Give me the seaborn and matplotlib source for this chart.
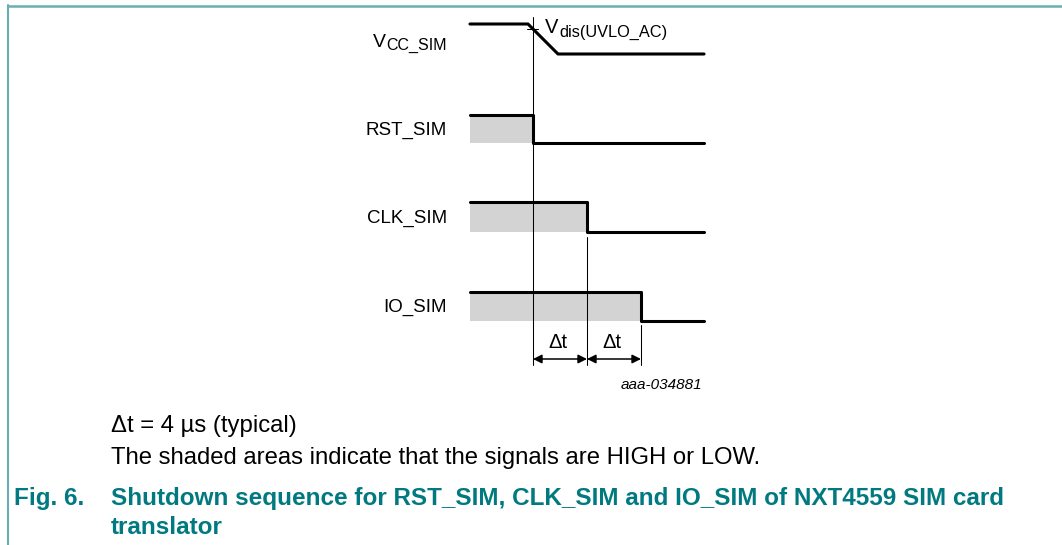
import numpy as np
import pandas as pd
import matplotlib
matplotlib.use("Agg")
import matplotlib.pyplot as plt
import seaborn as sns

# ---------------- data (timing in µs) ----------------
signals = ["VCC_SIM", "RST_SIM", "CLK_SIM", "IO_SIM"]
t_start = -4.67
t_end = 12.67
edge_times = [0, 4, 8]            # falling edges of RST_SIM, CLK_SIM, IO_SIM
vcc_ramp = [-0.37, 1.85]          # VCC_SIM ramp-down start / end
dt_labels = ["Δt", "Δt"]
fig_id = "aaa-034881"
note1 = "Δt = 4 µs (typical)"
note2 = "The shaded areas indicate that the signals are HIGH or LOW."
fig_no = "Fig. 6."
title_l1 = "Shutdown sequence for RST_SIM, CLK_SIM and IO_SIM of NXT4559 SIM card"
title_l2 = "translator"

# row levels (vertical layout, in pixel-like units)
row_high = [24, 115, 202, 292]
row_low = [54, 143, 232, 321]

sns.set_theme(style="white")
plt.rcParams["font.family"] = ["Liberation Sans", "DejaVu Sans"]
plt.rcParams["text.color"] = "black"

W, H = 1062, 545
fig = plt.figure(figsize=(W / 100, H / 100), dpi=100)
ax = fig.add_axes([0, 0, 1, 1])
x0_px, px_per_us = 533, 13.5
ax.set_xlim(-x0_px / px_per_us, (W - x0_px) / px_per_us)
ax.set_ylim(H, 0)
ax.axis("off")
renderer = fig.canvas.get_renderer()


def px(xp):
    return (xp - x0_px) / px_per_us


# build traces
rows = []
vt = [t_start, vcc_ramp[0], vcc_ramp[1], t_end]
vy = [row_high[0], row_high[0], row_low[0], row_low[0]]
for i, (t, y) in enumerate(zip(vt, vy)):
    rows.append(dict(sig=signals[0], order=i, t=t, y=y))
for k, e in enumerate(edge_times):
    hi, lo = row_high[k + 1], row_low[k + 1]
    for i, (t, y) in enumerate(zip([t_start, e, e, t_end], [hi, hi, lo, lo])):
        rows.append(dict(sig=signals[k + 1], order=i, t=t, y=y))
df = pd.DataFrame(rows)

# shading
for k, e in enumerate(edge_times):
    ax.fill_between([t_start, e], row_low[k + 1], row_high[k + 1],
                    color="#d3d3d3", lw=0, zorder=1)

for s in signals:
    d = df[df.sig == s]
    sns.lineplot(data=d, x="t", y="y", ax=ax, color="black", lw=2.2,
                 estimator=None, sort=False, legend=False, zorder=3)

# thin reference lines
ref_tops = [17, 237, 325]
for e, top in zip(edge_times, ref_tops):
    ax.plot([e, e], [top, 365], color="black", lw=0.75, zorder=2)

# Vdis tick
ycross = row_high[0] + (row_low[0] - row_high[0]) * (0 - vcc_ramp[0]) / (vcc_ramp[1] - vcc_ramp[0])
ax.plot([-0.45, 0.35], [ycross, ycross], color="black", lw=0.75, zorder=3)

# V_dis(UVLO_AC) label: main letter + subscript
v1 = ax.text(px(545), 33, "V", fontsize=14.5, ha="left", va="baseline")
ext = v1.get_window_extent(renderer)
ax.text(px(ext.x1 + 0.5), 37, "dis(UVLO_AC)", fontsize=11.8, ha="left", va="baseline")

# V_CC_SIM label (right aligned at 447 px)
sub = ax.text(px(447), 50, "CC_SIM", fontsize=11.5, ha="right", va="baseline")
ext = sub.get_window_extent(renderer)
ax.text(px(ext.x0 - 0.3), 47, "V", fontsize=14, ha="right", va="baseline")

# arrows
for a, b, lab in zip(edge_times[:-1], edge_times[1:], dt_labels):
    ax.annotate("", xy=(a, 359), xytext=(b, 359),
                arrowprops=dict(arrowstyle="<|-|>", lw=1.1, color="black",
                                mutation_scale=13, shrinkA=0, shrinkB=0))
    ax.text((a + b) / 2 - 0.15, 342, lab, ha="center", va="center", fontsize=14.5)

# signal labels
lab_x = px(447)
for s, yb in zip(signals[1:], [135, 223, 312]):
    ax.text(lab_x, yb, s, fontsize=13.5, ha="right", va="baseline")

ax.text(px(702), 385, fig_id, fontsize=11, style="italic", ha="right", va="center")


# captions
def fx(x):
    return x / W


def fy(y):
    return 1 - y / H


fig.text(fx(111), fy(426), note1, fontsize=17.2, va="center", ha="left")
fig.text(fx(111), fy(458), note2, fontsize=17.2, va="center", ha="left")
teal = "#007a80"
fig.text(fx(14), fy(498), fig_no, fontsize=17.5, fontweight="bold", color=teal, va="center")
fig.text(fx(111), fy(498), title_l1, fontsize=17.5, fontweight="bold", color=teal, va="center")
fig.text(fx(111), fy(527), title_l2, fontsize=17.5, fontweight="bold", color=teal, va="center")

# frame lines
border = "#6aaeb3"
fig.add_artist(plt.Line2D([fx(8), 1], [fy(5.5), fy(5.5)], color=border, lw=1.8))
fig.add_artist(plt.Line2D([fx(8), fx(8)], [fy(5), 0], color=border, lw=1.5))

fig.savefig("out.png", dpi=100)
